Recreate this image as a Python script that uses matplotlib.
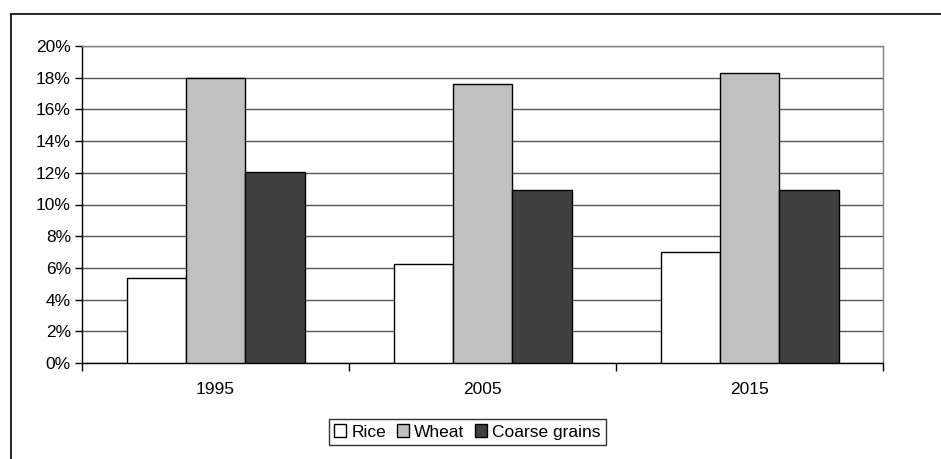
import matplotlib
matplotlib.use("Agg")
import matplotlib.pyplot as plt
import numpy as np
from matplotlib.lines import Line2D
from matplotlib.ticker import FixedLocator

plt.rcParams['font.family'] = ['Liberation Sans', 'DejaVu Sans']

years = ["1995", "2005", "2015"]
series_names = ["Rice", "Wheat", "Coarse grains"]
rice = [5.37, 6.27, 7.03]
wheat = [18.0, 17.58, 18.3]
coarse = [12.07, 10.92, 10.9]
colors = ["#FFFFFF", "#C0C0C0", "#404040"]
yticks = [0, 2, 4, 6, 8, 10, 12, 14, 16, 18, 20]

FS = 12.5
W, H = 941, 459
fig = plt.figure(figsize=(W / 100, H / 100), dpi=100)
ax = fig.add_axes([82 / W, 1 - 363 / H, (883 - 82) / W, (363 - 46) / H])

x = np.arange(len(years))
bw = 1 / 4.5
for i, (vals, col, name) in enumerate(zip([rice, wheat, coarse], colors, series_names)):
    ax.bar(x + (i - 1) * bw, vals, width=bw, color=col, edgecolor="black",
           linewidth=1.0, label=name, zorder=3)

ax.set_xlim(-0.5, len(years) - 0.5)
ax.set_ylim(0, 20)
ax.set_yticks(yticks)
ax.set_yticklabels([f"{v}%" for v in yticks])
ax.yaxis.grid(True, color="#555555", linewidth=1.0, zorder=0)
ax.set_axisbelow(True)

ax.set_xticks(x)
ax.set_xticklabels(years)
ax.tick_params(axis="x", which="major", length=0, pad=14, labelsize=FS)
ax.xaxis.set_minor_locator(FixedLocator(np.arange(len(years) + 1) - 0.5))
ax.tick_params(axis="x", which="minor", length=6, width=1, color="black", direction="out")
ax.tick_params(axis="y", length=5, width=1, color="black", direction="out", labelsize=FS, pad=3)

for s in ["top", "right"]:
    ax.spines[s].set_color("#808080")
    ax.spines[s].set_linewidth(1.0)
for s in ["left", "bottom"]:
    ax.spines[s].set_color("black")
    ax.spines[s].set_linewidth(1.0)

leg = ax.legend(loc="center", bbox_to_anchor=(467.5 / W, 1 - 432 / H),
                bbox_transform=fig.transFigure, ncol=3, frameon=True,
                fancybox=False, edgecolor="black", fontsize=FS,
                handlelength=0.7, handleheight=0.7, handletextpad=0.3,
                columnspacing=0.6, borderpad=0.3, borderaxespad=0)
leg.get_frame().set_linewidth(1.0)

# outer chart border (top and left visible)
fig.add_artist(Line2D([10.5 / W, 1], [1 - 13.5 / H, 1 - 13.5 / H], color="black", linewidth=1.2))
fig.add_artist(Line2D([10.5 / W, 10.5 / W], [0, 1 - 13.5 / H], color="black", linewidth=1.2))

fig.savefig("out.png", dpi=100)
